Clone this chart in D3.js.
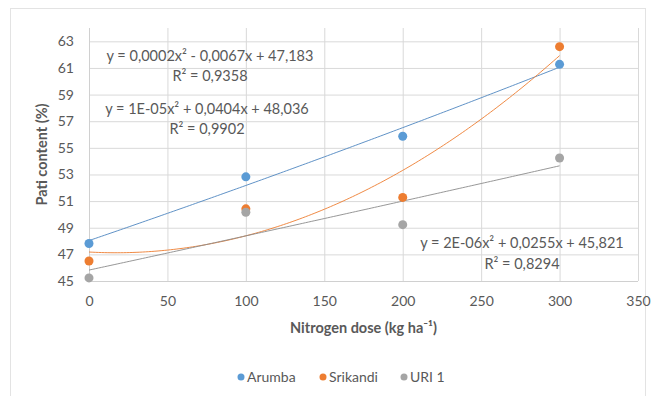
<!DOCTYPE html>
<html>
<head>
<meta charset="utf-8">
<script src="https://cdn.jsdelivr.net/npm/d3@7"></script>
<style>
  html, body { margin: 0; padding: 0; background: #ffffff; }
  svg { display: block; font-family: Lato, "Open Sans", sans-serif; }
</style>
</head>
<body>
<svg id="chart" width="662" height="396"></svg>
<script>
// Nitrogen dose levels (kg/ha)
const doses = [0, 100, 200, 300];
// Starch (pati) content per variety, %
const arumba   = [47.82, 52.82, 55.87, 61.27];
const srikandi = [46.50, 50.42, 51.28, 62.60];
const uri1     = [45.23, 50.16, 49.23, 54.24];

const seriesNames  = ["Arumba", "Srikandi", "URI 1"];
const seriesColors = ["#5b9bd5", "#ed7d31", "#a5a5a5"];
const trendColors  = ["#4f86c0", "#ed7d31", "#8c8c8c"];

// Trendline equation labels
const equationLabels = [
  "y = 1E-05x² + 0,0404x + 48,036",
  "y = 0,0002x² - 0,0067x + 47,183",
  "y = 2E-06x² + 0,0255x + 45,821"
];
const r2Labels = ["R² = 0,9902", "R² = 0,9358", "R² = 0,8294"];

const xTicks = [0, 50, 100, 150, 200, 250, 300, 350];
const yTicks = [45, 47, 49, 51, 53, 55, 57, 59, 61, 63];

const svg = d3.select("#chart");
const plot = { left: 89, right: 638, top: 28, bottom: 281 };

const x = d3.scaleLinear().domain([0, 350]).range([plot.left, plot.right]);
const y = d3.scaleLinear().domain([45, 64]).range([plot.bottom, plot.top]);

const textColor = "#595959";
const gridColor = "#d9d9d9";

// outer chart frame
svg.append("rect")
  .attr("x", 10.5).attr("y", 8.5)
  .attr("width", 635).attr("height", 400)
  .attr("fill", "#fff").attr("stroke", "#e3e3e3").attr("stroke-width", 1);

// horizontal gridlines via the y axis
svg.append("g")
  .attr("transform", `translate(${plot.left},0)`)
  .call(d3.axisLeft(y).tickValues(yTicks).tickSize(-(plot.right - plot.left)).tickFormat(""))
  .call(g => g.select(".domain").remove())
  .call(g => g.selectAll("line").attr("stroke", gridColor));

// vertical gridlines via the x axis
svg.append("g")
  .attr("transform", `translate(0,${plot.bottom})`)
  .call(d3.axisBottom(x).tickValues(xTicks).tickSize(-(plot.bottom - plot.top)).tickFormat(""))
  .call(g => g.select(".domain").remove())
  .call(g => g.selectAll("line").attr("stroke", gridColor));

// axis lines
svg.append("line")
  .attr("x1", plot.left).attr("x2", plot.right)
  .attr("y1", plot.bottom + 0.5).attr("y2", plot.bottom + 0.5)
  .attr("stroke", "#d0d0d0");
svg.append("line")
  .attr("x1", plot.left + 0.5).attr("x2", plot.left + 0.5)
  .attr("y1", plot.top).attr("y2", plot.bottom)
  .attr("stroke", "#d0d0d0");

// tick labels
svg.append("g")
  .attr("transform", `translate(${plot.left - 5},0)`)
  .call(d3.axisLeft(y).tickValues(yTicks).tickSize(0).tickPadding(10))
  .call(g => g.select(".domain").remove())
  .call(g => g.selectAll("text")
    .attr("fill", textColor).style("font-size", "14px").style("font-family", "Lato, sans-serif"));

svg.append("g")
  .attr("transform", `translate(0,${plot.bottom})`)
  .call(d3.axisBottom(x).tickValues(xTicks).tickSize(0).tickPadding(15))
  .call(g => g.select(".domain").remove())
  .call(g => g.selectAll("text")
    .attr("fill", textColor).style("font-size", "14px").style("font-family", "Lato, sans-serif"));

// axis titles
svg.append("text")
  .attr("x", (plot.left + plot.right) / 2).attr("y", 333)
  .attr("text-anchor", "middle")
  .attr("fill", textColor).attr("font-weight", "bold").attr("font-size", 14.5)
  .text("Nitrogen dose (kg ha⁻¹)");

svg.append("text")
  .attr("transform", `translate(47,${(plot.top + plot.bottom) / 2}) rotate(-90)`)
  .attr("text-anchor", "middle")
  .attr("fill", textColor).attr("font-weight", "bold").attr("font-size", 14.5)
  .text("Pati content (%)");

// least squares quadratic fit: returns [c0, c1, c2] for c0 + c1 x + c2 x²
function quadFit(xs, ys) {
  const S = k => d3.sum(xs, v => Math.pow(v, k));
  const T = k => d3.sum(xs, (v, i) => Math.pow(v, k) * ys[i]);
  const A = [[S(0), S(1), S(2)], [S(1), S(2), S(3)], [S(2), S(3), S(4)]];
  const b = [T(0), T(1), T(2)];
  for (let i = 0; i < 3; i++) {
    for (let r = i + 1; r < 3; r++) {
      const f = A[r][i] / A[i][i];
      for (let c = i; c < 3; c++) A[r][c] -= f * A[i][c];
      b[r] -= f * b[i];
    }
  }
  const c = [0, 0, 0];
  for (let i = 2; i >= 0; i--) {
    let s = b[i];
    for (let k = i + 1; k < 3; k++) s -= A[i][k] * c[k];
    c[i] = s / A[i][i];
  }
  return c;
}

const allSeries = [arumba, srikandi, uri1];

// trendlines
allSeries.forEach((vals, si) => {
  const c = quadFit(doses, vals);
  const xs = d3.range(0, 300.01, 2);
  const line = d3.line()
    .x(d => x(d))
    .y(d => y(c[0] + c[1] * d + c[2] * d * d));
  svg.append("path")
    .datum(xs)
    .attr("d", line)
    .attr("fill", "none")
    .attr("stroke", trendColors[si])
    .attr("stroke-width", 1)
    .attr("opacity", 0.9);
});

// markers
allSeries.forEach((vals, si) => {
  svg.append("g").selectAll("circle")
    .data(vals)
    .join("circle")
    .attr("cx", (d, i) => x(doses[i]))
    .attr("cy", d => y(d))
    .attr("r", 4.5)
    .attr("fill", seriesColors[si]);
});

// equation labels
const eqPos = [
  { cx: 207, y1: 114, y2: 134 },
  { cx: 210, y1: 61,  y2: 81 },
  { cx: 522, y1: 248, y2: 269 }
];
eqPos.forEach((p, i) => {
  svg.append("text")
    .attr("x", p.cx).attr("y", p.y1)
    .attr("text-anchor", "middle")
    .attr("fill", textColor).attr("font-size", 14.5)
    .text(equationLabels[i]);
  svg.append("text")
    .attr("x", p.cx).attr("y", p.y2)
    .attr("text-anchor", "middle")
    .attr("fill", textColor).attr("font-size", 14.5)
    .text(r2Labels[i]);
});

// legend
const legendX = [241, 323, 404];
const legend = svg.append("g");
seriesNames.forEach((name, i) => {
  legend.append("circle")
    .attr("cx", legendX[i]).attr("cy", 377)
    .attr("r", 3.5).attr("fill", seriesColors[i]);
  legend.append("text")
    .attr("x", legendX[i] + 6).attr("y", 382)
    .attr("fill", textColor).attr("font-size", 14)
    .text(name);
});
</script>
</body>
</html>
